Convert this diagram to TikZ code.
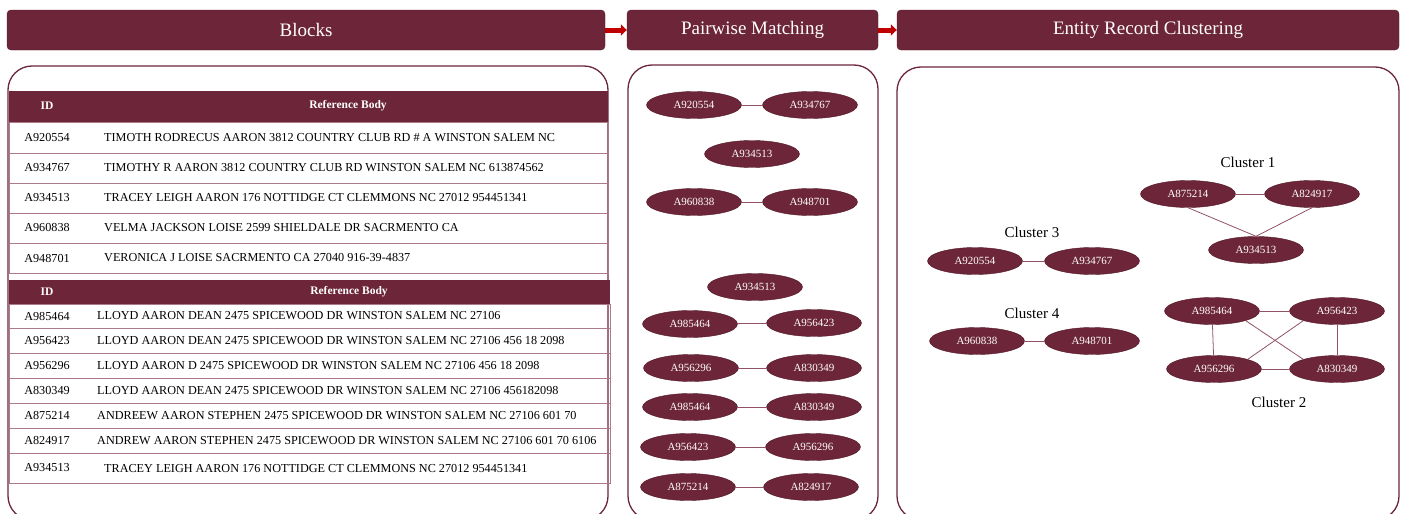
\documentclass[tikz,border=0pt]{standalone}
\usepackage{fontspec}
\setmainfont{Liberation Serif}
\usepackage{tikz}
\usetikzlibrary{shapes.geometric,arrows.meta}

\definecolor{wine}{RGB}{108,37,57}
\definecolor{winedark}{RGB}{84,26,42}
\definecolor{winelink}{RGB}{145,82,100}
\definecolor{rowline}{RGB}{172,122,138}
\definecolor{arrowred}{RGB}{192,0,0}

\tikzset{
  stage/.style={draw=winedark,fill=wine,rounded corners=4pt,text=white,minimum height=40pt,font=\fontsize{19}{21}\selectfont},
  panel/.style={draw=wine,line width=1.3pt,rounded corners=24pt},
  rec/.style={ellipse,draw=winedark,fill=wine,text=white,minimum width=95pt,minimum height=27pt,inner sep=0pt,font=\fontsize{11}{12}\selectfont},
  link/.style={draw=winelink,line width=0.8pt},
  flow/.style={draw=arrowred,line width=5pt,-{Triangle[length=6pt,width=11pt]}},
  thead/.style={text=white,inner sep=0pt,font=\bfseries\fontsize{11.5}{13}\selectfont},
  cell/.style={inner sep=0pt,font=\fontsize{12.2}{14}\selectfont},
  row/.style={draw=rowline,line width=0.8pt},
  clabel/.style={inner sep=0pt,font=\fontsize{15}{17}\selectfont}
}

\begin{document}
\begin{tikzpicture}[x=1pt,y=-1pt]
    \useasboundingbox (0,0) rectangle (1406,514);
    \clip (0,0) rectangle (1406,514);

    % stage titles
    \node[stage,minimum width=598pt] (blocks) at (306,30) {Blocks};
    \node[stage,minimum width=251pt] (pair) at (752.5,30) {Pairwise Matching};
    \node[stage,minimum width=502pt] (entity) at (1148,30) {Entity Record Clustering};
    \draw[flow] (blocks.east) -- (pair.west);
    \draw[flow] (pair.east) -- (entity.west);

    % panels
    \draw[panel] (8,66) rectangle (608,520);
    \draw[panel] (628,65) rectangle (878,520);
    \draw[panel] (897,67) rectangle (1399,520);

    % first block
    \fill[wine] (9,91) rectangle (608,122);
    \node[thead] (idA) at (47,106) {ID};
    \node[thead] (bodyA) at (348,106) {Reference Body};
    \foreach \i/\top/\bot/\id/\body in {
        1/122/153/A920554/TIMOTH RODRECUS AARON 3812 COUNTRY CLUB RD \# A WINSTON SALEM NC,
        2/153/183/A934767/TIMOTHY R AARON 3812 COUNTRY CLUB RD WINSTON SALEM NC 613874562,
        3/183/213/A934513/TRACEY LEIGH AARON 176 NOTTIDGE CT CLEMMONS NC 27012 954451341,
        4/213/243/A960838/VELMA JACKSON LOISE 2599 SHIELDALE DR SACRMENTO CA,
        5/243/273/A948701/VERONICA J LOISE SACRMENTO CA 27040 916-39-4837}{
        \draw[row] (9,\top) rectangle (608,\bot);
        \node[cell] (idA\i) at (47,{(\top+\bot)/2}) {\id};
        \node[cell,anchor=west] (bodyA\i) at (104,{(\top+\bot)/2}) {\body};
    }

    % second block
    \fill[wine] (9,280) rectangle (610,304);
    \node[thead] (idB) at (47,292) {ID};
    \node[thead] (bodyB) at (349,292) {Reference Body};
    \foreach \i/\top/\bot/\x/\id/\body in {
        1/304/328/97/A985464/LLOYD AARON DEAN 2475 SPICEWOOD DR WINSTON SALEM NC 27106,
        2/328/353/97/A956423/LLOYD AARON DEAN 2475 SPICEWOOD DR WINSTON SALEM NC 27106 456 18 2098,
        3/353/378/97/A956296/LLOYD AARON D 2475 SPICEWOOD DR WINSTON SALEM NC 27106 456 18 2098,
        4/378/403/97/A830349/LLOYD AARON DEAN 2475 SPICEWOOD DR WINSTON SALEM NC 27106 456182098,
        5/403/428/97/A875214/ANDREEW AARON STEPHEN 2475 SPICEWOOD DR WINSTON SALEM NC 27106 601 70,
        6/428/453/97/A824917/ANDREW AARON STEPHEN 2475 SPICEWOOD DR WINSTON SALEM NC 27106 601 70 6106,
        7/453/483/104/A934513/TRACEY LEIGH AARON 176 NOTTIDGE CT CLEMMONS NC 27012 954451341}{
        \draw[row] (9,\top) rectangle (610,\bot);
        \node[cell] (idB\i) at (47,{(\top+\bot)/2}) {\id};
        \node[cell,anchor=west] (bodyB\i) at (\x,{(\top+\bot)/2}) {\body};
    }

    % pairwise matching
    \node[rec] (p1) at (694,105) {A920554};
    \node[rec] (p2) at (810,105) {A934767};
    \node[rec] (p3) at (752,154) {A934513};
    \node[rec] (p4) at (694,202) {A960838};
    \node[rec] (p5) at (810,202) {A948701};
    \node[rec] (p6) at (755,287) {A934513};
    \node[rec] (p7) at (690,324) {A985464};
    \node[rec] (p8) at (814,323) {A956423};
    \node[rec] (p9) at (691,368) {A956296};
    \node[rec] (p10) at (814,368) {A830349};
    \node[rec] (p11) at (690,407) {A985464};
    \node[rec] (p12) at (814,407) {A830349};
    \node[rec] (p13) at (688,447) {A956423};
    \node[rec] (p14) at (813,447) {A956296};
    \node[rec] (p15) at (688,487) {A875214};
    \node[rec] (p16) at (811,487) {A824917};
    \draw[link] (p1) -- (p2);
    \draw[link] (p4) -- (p5);
    \draw[link] (p7) -- (p8);
    \draw[link] (p9) -- (p10);
    \draw[link] (p11) -- (p12);
    \draw[link] (p13) -- (p14);
    \draw[link] (p15) -- (p16);

    % clusters
    \node[clabel] (clusterone) at (1248,162) {Cluster 1};
    \node[rec] (c875214) at (1188,194) {A875214};
    \node[rec] (c824917) at (1312,194) {A824917};
    \node[rec] (c934513) at (1256,250) {A934513};
    \draw[link] (c875214) -- (c824917);
    \draw[link] (c875214.south) -- (c934513.north);
    \draw[link] (c824917.south) -- (c934513.north);

    \node[clabel] (clusterthree) at (1032,232) {Cluster 3};
    \node[rec] (c920554) at (975,261) {A920554};
    \node[rec] (c934767) at (1092,261) {A934767};
    \draw[link] (c920554) -- (c934767);

    \node[clabel] (clusterfour) at (1032,313) {Cluster 4};
    \node[rec] (c960838) at (977,341) {A960838};
    \node[rec] (c948701) at (1092,341) {A948701};
    \draw[link] (c960838) -- (c948701);

    \node[rec] (c985464) at (1212,311) {A985464};
    \node[rec] (c956423) at (1337,311) {A956423};
    \node[rec] (c956296) at (1214,369) {A956296};
    \node[rec] (c830349) at (1337,369) {A830349};
    \node[clabel] (clustertwo) at (1279,402) {Cluster 2};
    \draw[link] (c985464) -- (c956423);
    \draw[link] (c956296) -- (c830349);
    \draw[link] (c985464) -- (c956296);
    \draw[link] (c956423) -- (c830349);
    \draw[link] (c985464.south east) -- (c830349.north west);
    \draw[link] (c956423.south west) -- (c956296.north east);
\end{tikzpicture}
\end{document}
